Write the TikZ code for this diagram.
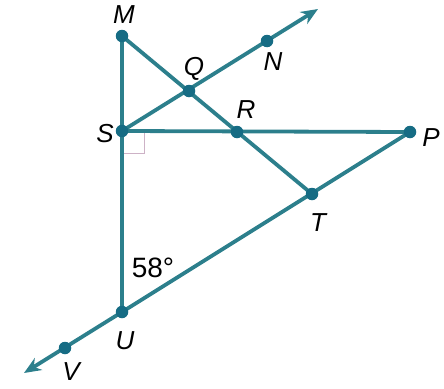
\documentclass[tikz,border=0pt]{standalone}
\usepackage{fontspec}
\usepackage{tikz}
\usetikzlibrary{arrows.meta, backgrounds}
\newfontfamily\lblfont{Liberation Sans}
\definecolor{segteal}{RGB}{44,127,140}
\definecolor{dotteal}{RGB}{22,108,132}
\definecolor{rtmark}{RGB}{205,178,198}
\tikzset{
  pt/.style  ={circle, fill=dotteal, inner sep=0pt, minimum size=12.5pt},
  lbl/.style ={inner sep=0pt, font=\lblfont\itshape\fontsize{26}{30}\selectfont},
  ang/.style ={inner sep=0pt, font=\lblfont\fontsize{28}{32}\selectfont},
  seg/.style ={draw=segteal, line width=3.8pt},
  ray/.style ={seg, -{Stealth[length=17pt, width=14pt]}},
}

\begin{document}
\begin{tikzpicture}[x=1pt, y=-1pt]
  \useasboundingbox (0,0) rectangle (444,388);

  % points
  \node[pt] (M) at (122,36)  {};
  \node[pt] (S) at (122,131) {};
  \node[pt] (U) at (122,312) {};
  \node[pt] (V) at (65,348)  {};
  \node[pt] (P) at (410,132) {};
  \node[pt] (T) at (312,194) {};
  \node[pt] (R) at (237,132) {};
  \node[pt] (Q) at (189,91)  {};
  \node[pt] (N) at (267,41)  {};
  \coordinate (tipN) at (318,9);
  \coordinate (tipV) at (24,373);

  % lines
  \begin{pgfonlayer}{background}
    \draw[rtmark, line width=1pt] (124,153) -| (144,133);
    \draw[seg] (M.center) -- (U.center);
    \draw[seg] (S.center) -- (P.center);
    \draw[seg] (M.center) -- (T.center);
    \draw[seg] (U.center) -- (P.center);
    \draw[ray] (S.center) -- (tipN);
    \draw[ray] (U.center) -- (tipV);
  \end{pgfonlayer}

  % labels
  \node[lbl] (lM) at (124,15)  {M};
  \node[lbl] (lQ) at (194,69)  {Q};
  \node[lbl] (lN) at (273,62)  {N};
  \node[lbl] (lR) at (246,110) {R};
  \node[lbl] (lS) at (105,134) {S};
  \node[lbl] (lP) at (431,138) {P};
  \node[lbl] (lT) at (318,223) {T};
  \node[lbl] (lU) at (125,341) {U};
  \node[lbl] (lV) at (71,372)  {V};
  \node[ang] (a58) at (153,268) {58°};

\end{tikzpicture}
\end{document}
